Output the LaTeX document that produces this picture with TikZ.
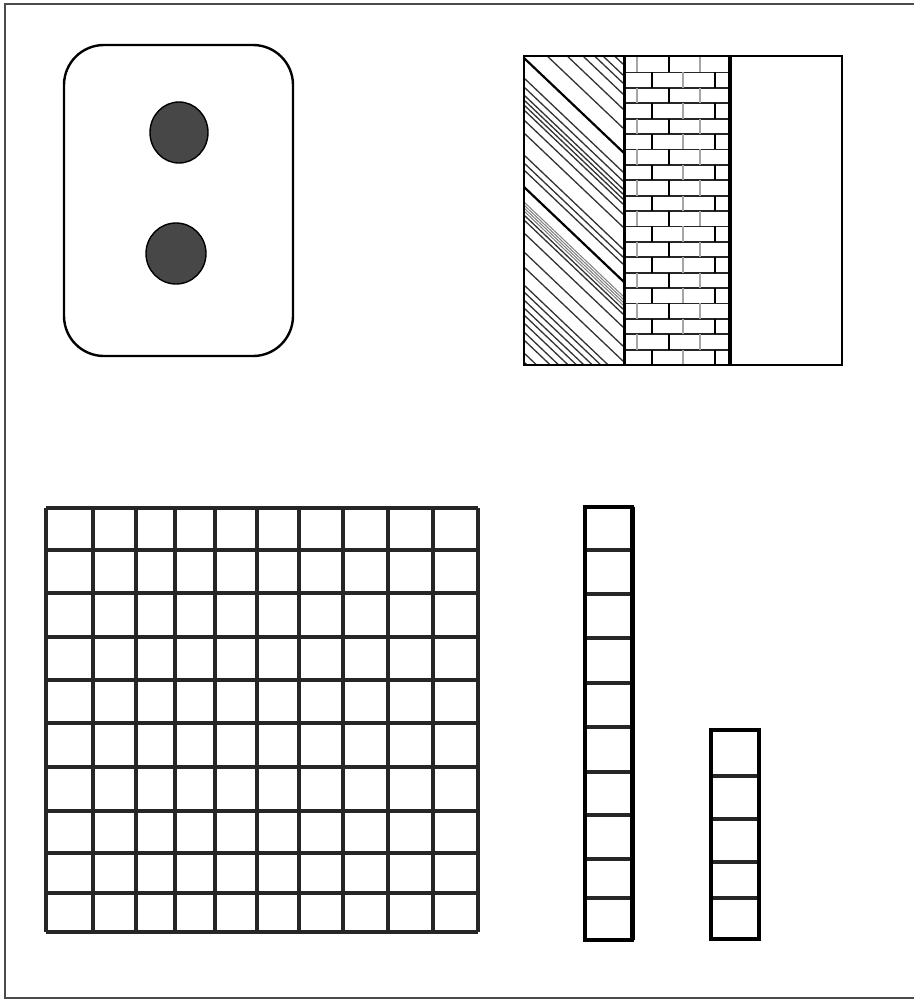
\documentclass[tikz,border=0pt]{standalone}
\begin{document}
\begin{tikzpicture}[x=1pt,y=-1pt,
  frameline/.style={line width=2.2pt, draw=black!70},
  outline/.style={line width=2.4pt, draw=black},
  gridline/.style={line width=3.2pt, draw=black!85},
  hatch/.style={line width=1.3pt, draw=black!80},
  brickh/.style={line width=1.8pt, draw=black!85},
  brickv/.style={line width=1.8pt, draw=black},
  brickg/.style={line width=1.8pt, draw=black!35},
  dot/.style={fill=black!72, draw=black, line width=1.4pt}]
\useasboundingbox (0,0) rectangle (913,1001);
\fill[white] (0,0) rectangle (913,1001);
% outer frame (right side is cut off)
\draw[frameline] (918,4) -- (5,4) -- (5,998) -- (918,998);

% socket plate
\draw[outline, rounded corners=40pt] (64,45) rectangle (293,356);
\fill[dot] (179,132.5) ellipse (29 and 30.5);
\fill[dot] (176,253.5) ellipse (30 and 30.5);

% wall section: hatched panel
\begin{scope}
  \clip (524,56) rectangle (624,365);
  \foreach \c in {-40,-30,-19,-11,0,15,34,78,87,95,100,105,110,120,133,155,163,170,215,220,233,252,267,285,292,300,308,315,323,332,340,353,362}
    \draw[hatch] (520,\c-3.8) -- (630,\c+100.7);
  \draw[line width=2.2pt] (520,54.2) -- (630,158.7);
  \draw[line width=2.2pt] (520,183.2) -- (630,287.7);
  \foreach \c in {202,205,208,211}
    \draw[line width=1pt, draw=black!50] (520,\c-3.8) -- (630,\c+100.7);
\end{scope}

% wall section: brick panel
\foreach \i in {0,...,19} {
  \pgfmathsetmacro{\yt}{57+15.4*\i}
  \pgfmathsetmacro{\yb}{57+15.4*(\i+1)}
  \draw[brickh] (624,\yb) -- (730,\yb);
  \ifodd\i
    \draw[brickv] (652,\yt) -- (652,\yb);
    \draw[brickg] (683,\yt) -- (683,\yb);
    \draw[brickv] (715,\yt) -- (715,\yb);
  \else
    \draw[brickg] (637,\yt) -- (637,\yb);
    \draw[brickv] (669,\yt) -- (669,\yb);
    \draw[brickg] (700,\yt) -- (700,\yb);
  \fi
}
% wall section: outlines
\draw[outline] (524,56) rectangle (842,365);
\draw[line width=3pt] (624,56) -- (624,365);
\draw[line width=3.6pt] (730,56) -- (730,365);

% hundred square
\foreach \x in {46,93,136,175,215,257,299,343,388,433,478}
  \draw[gridline] (\x,508) -- (\x,932);
\foreach \y in {508,550,593,637,680,723,767,811,853,893,932}
  \draw[gridline] (46,\y) -- (478,\y);

% ten rod
\foreach \y in {550,594,638,683,727,772,815,859,898}
  \draw[gridline] (585,\y) -- (634,\y);
\draw[line width=3.2pt] (585,507) rectangle (632,940);
\draw[line width=3.8pt] (633,507) -- (633,940);

% five column
\foreach \y in {776,819,862,898}
  \draw[gridline] (710,\y) -- (760,\y);
\draw[line width=3.4pt] (711,730) rectangle (759,939);
\draw[line width=4pt] (710,730) -- (760,730);
\end{tikzpicture}
\end{document}
